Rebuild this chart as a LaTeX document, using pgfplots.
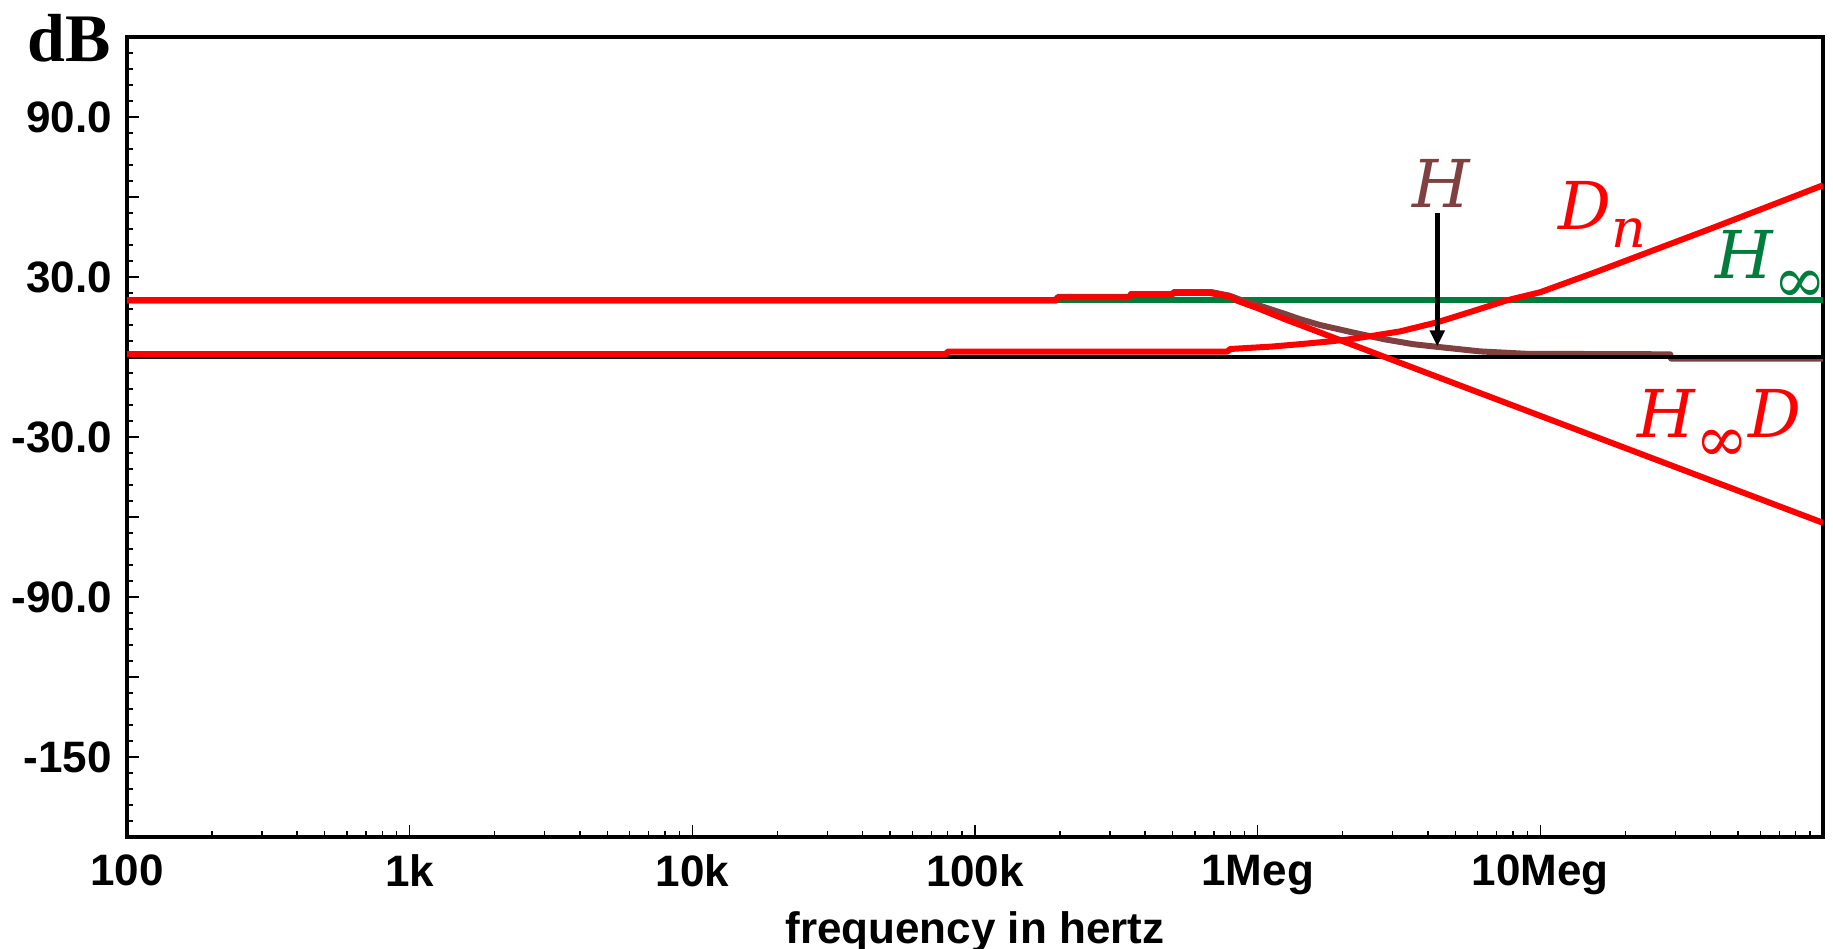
\documentclass[border=0pt]{standalone}
\usepackage{fontspec}
\setmainfont{Liberation Sans}
\newfontfamily\timesfont{Liberation Serif}
\newfontfamily\labfont{DejaVu Serif}
\usepackage{pgfplots}
\pgfplotsset{compat=1.18}
\usetikzlibrary{arrows.meta}
\definecolor{hred}{RGB}{255,0,0}
\definecolor{hgreen}{RGB}{0,125,60}
\definecolor{hbrown}{RGB}{128,64,64}
\newcommand{\labbig}{\labfont\fontsize{16.5}{18}\selectfont\itshape}
\newcommand{\subinf}{\raisebox{-6pt}{\fontsize{16}{16}\selectfont\upshape\symbol{"221E}}}
\begin{document}
\begin{tikzpicture}
\useasboundingbox (-31.75pt,-28pt) rectangle (426.5pt,209.25pt);
\begin{axis}[
  at={(0,0)}, anchor=south west,
  scale only axis, width=424pt, height=200pt,
  xmode=log, xmin=100, xmax=1e8, ymin=-180, ymax=120,
  axis line style={line width=1.1pt},
  tick align=inside, tick pos=left,
  xtick={1e2,1e3,1e4,1e5,1e6,1e7},
  xticklabels={100,1k,10k,100k,1Meg,10Meg},
  minor xtick={200,300,400,500,600,700,800,900,
    2000,3000,4000,5000,6000,7000,8000,9000,
    2e4,3e4,4e4,5e4,6e4,7e4,8e4,9e4,
    2e5,3e5,4e5,5e5,6e5,7e5,8e5,9e5,
    2e6,3e6,4e6,5e6,6e6,7e6,8e6,9e6,
    2e7,3e7,4e7,5e7,6e7,7e7,8e7,9e7},
  ytick={-150,-120,-90,-60,-30,0,30,60,90},
  yticklabels={-150,,-90.0,,-30.0,,30.0,,90.0},
  minor ytick={-174,-168,-162,-156,-144,-138,-132,-126,-114,-108,-102,-96,-84,-78,-72,-66,-54,-48,-42,-36,-24,-18,-12,-6,6,12,18,24,36,42,48,54,66,72,78,84,96,102,108,114},
  major tick length=3pt, minor tick length=1.5pt,
  every tick/.style={black, line width=0.35pt},
  tick label style={font=\bfseries\fontsize{11}{13}\selectfont, inner sep=0pt},
  yticklabel style={anchor=east, xshift=-3.6pt},
  xticklabel style={anchor=north, yshift=-4.3pt},
  xlabel={frequency in hertz},
  xlabel style={font=\bfseries\fontsize{11}{13}\selectfont, at={(axis description cs:0.5,0)}, anchor=north, inner sep=0pt, yshift=-18.5pt},
  clip=true,
]
% H_infinity (green)
\addplot[hgreen, line width=1.5pt] coordinates {(100,21.2) (1e8,21.2)};
% H (brown)
\addplot[hbrown, line width=1.5pt, line join=round] coordinates {
(100,21.2) (1.94e5,21.2) (1.96e5,22.5) (3.53e5,22.5) (3.56e5,23.6) (5.0e5,23.6)
(5.03e5,24.3) (6.9e5,24.3) (7.94e5,23.0) (8.91e5,21.0) (1e6,19.5) (1.26e6,16.0)
(1.41e6,14.2) (1.66e6,12.0) (2.17e6,9.2) (2.82e6,6.6) (3.55e6,4.8) (4.32e6,3.8)
(6.12e6,2.1) (8.91e6,1.2) (2.88e7,1.0) (2.9e7,-0.6) (1e8,-0.6)};
% 0 dB line
\addplot[black, line width=1pt] coordinates {(100,0) (1e8,0)};
% H_infinity D (red)
\addplot[hred, line width=1.5pt, line join=round] coordinates {
(100,21.2) (1.94e5,21.2) (1.96e5,22.4) (3.53e5,22.4) (3.56e5,23.4) (5.0e5,23.4)
(5.03e5,24.0) (6.76e5,24.0) (7.94e5,22.7) (8.51e5,21.0) (1e6,18.3) (1.26e6,14.0)
(1e8,-62.2)};
% D_n (red)
\addplot[hred, line width=1.5pt, line join=round] coordinates {
(100,1.1) (7.9e4,1.1) (8.0e4,2.0) (7.8e5,2.0) (8.0e5,3.0) (1.12e6,3.9) (1.41e6,4.8)
(1.70e6,5.6) (2.07e6,6.5) (2.57e6,8.0) (3.19e6,9.6) (4.31e6,13.0) (5.62e6,16.8)
(7.59e6,21.2) (1e7,24.3) (1.585e7,32.0) (2.51e7,40.0) (3.98e7,48.0) (6.31e7,56.2)
(1e8,64.4)};
% labels
\node[hbrown, inner sep=0pt] at (axis cs:4.48e6,65) {\labbig H};
\node[hred, inner sep=0pt, anchor=base west] at (axis cs:1.153e7,47.7) {\labbig D\raisebox{-4.5pt}{\fontsize{13.5}{14}\selectfont n}};
\node[hgreen, inner sep=0pt, anchor=base west] at (axis cs:4.15e7,29.4) {\labbig H\subinf};
\node[hred, inner sep=0pt, anchor=base west] at (axis cs:2.2e7,-30.3) {\labbig H\subinf D};
\draw[black, line width=1.1pt, -{Triangle[length=4pt,width=3.6pt]}] (axis cs:4.32e6,54) -- (axis cs:4.32e6,4.0);
\end{axis}
\node[font=\timesfont\bfseries\fontsize{17}{20}\selectfont, anchor=base, inner sep=0pt] at (-14.5pt,193.75pt) {dB};
\end{tikzpicture}
\end{document}
